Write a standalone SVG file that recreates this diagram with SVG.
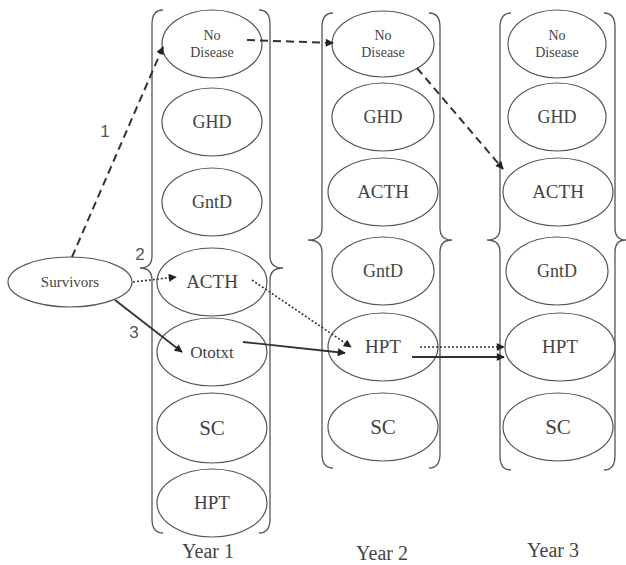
<svg xmlns="http://www.w3.org/2000/svg" width="626" height="565" viewBox="0 0 626 565">
<style>
.n ellipse{fill:#fff;stroke:#555;stroke-width:1.2}
text.t{font-family:"Liberation Serif","Times New Roman",serif;fill:#444;text-anchor:middle}
.b{fill:none;stroke:#555;stroke-width:1.3}
.num{font-family:"Liberation Sans",sans-serif;font-size:17px;fill:#555;text-anchor:middle}
.c{fill:none;stroke:#333}
.dash{stroke-width:2;stroke-dasharray:8 5}
.dot{stroke-width:1.6;stroke-dasharray:2 2}
.sol{stroke-width:1.8}
</style>
<defs>
<marker id="ah" viewBox="0 0 10 10" refX="9" refY="5" markerWidth="9" markerHeight="8" markerUnits="userSpaceOnUse" orient="auto">
<path d="M0,0 L10,5 L0,10 z" fill="#222"/>
</marker>
</defs>
<g id="braces">
<path class="b" d="M163,10 Q152,10 152,24 L152,256 Q152,268 140,268 Q152,268 152,280 L152,519 Q152,533 163,533"/>
<path class="b" d="M259,10 Q270,10 270,24 L270,256 Q270,268 283,268 Q270,268 270,280 L270,519 Q270,533 259,533"/>
<path class="b" d="M333,13 Q322,13 322,27 L322,228 Q322,240 308,240 Q322,240 322,252 L322,454 Q322,468 333,468"/>
<path class="b" d="M429,13 Q440,13 440,27 L440,228 Q440,240 452,240 Q440,240 440,252 L440,454 Q440,468 429,468"/>
<path class="b" d="M511,13 Q500,13 500,27 L500,228 Q500,240 487,240 Q500,240 500,252 L500,456 Q500,470 511,470"/>
<path class="b" d="M604,13 Q615,13 615,27 L615,228 Q615,240 626,240 Q615,240 615,252 L615,456 Q615,470 604,470"/>
</g>
<g id="survivors" class="n"><ellipse cx="70" cy="282" rx="62" ry="25"/><text class="t" x="70" y="287" font-size="15">Survivors</text></g>
<g id="y1-nodisease" class="n"><ellipse cx="212" cy="44" rx="50" ry="34"/><text class="t" x="212" y="40" font-size="14">No</text><text class="t" x="212" y="57" font-size="14">Disease</text></g>
<g id="y1-ghd" class="n"><ellipse cx="212" cy="122" rx="50" ry="34"/><text class="t" x="212" y="128" font-size="18">GHD</text></g>
<g id="y1-gntd" class="n"><ellipse cx="212" cy="202" rx="50" ry="34"/><text class="t" x="212" y="208" font-size="18">GntD</text></g>
<g id="y1-acth" class="n"><ellipse cx="212" cy="282" rx="55" ry="34"/><text class="t" x="212" y="288" font-size="19">ACTH</text></g>
<g id="y1-ototxt" class="n"><ellipse cx="212" cy="352" rx="55" ry="34"/><text class="t" x="212" y="358" font-size="17">Ototxt</text></g>
<g id="y1-sc" class="n"><ellipse cx="212" cy="428" rx="55" ry="35"/><text class="t" x="212" y="435" font-size="21">SC</text></g>
<g id="y1-hpt" class="n"><ellipse cx="212" cy="503" rx="55" ry="34"/><text class="t" x="212" y="509" font-size="19">HPT</text></g>
<g id="y2-nodisease" class="n"><ellipse cx="383" cy="44" rx="51" ry="33"/><text class="t" x="383" y="40" font-size="14">No</text><text class="t" x="383" y="57" font-size="14">Disease</text></g>
<g id="y2-ghd" class="n"><ellipse cx="383" cy="117" rx="51" ry="34"/><text class="t" x="383" y="123" font-size="18">GHD</text></g>
<g id="y2-acth" class="n"><ellipse cx="383" cy="192" rx="55" ry="34"/><text class="t" x="383" y="198" font-size="19">ACTH</text></g>
<g id="y2-gntd" class="n"><ellipse cx="383" cy="271" rx="51" ry="34"/><text class="t" x="383" y="277" font-size="18">GntD</text></g>
<g id="y2-hpt" class="n"><ellipse cx="383" cy="347" rx="55" ry="34"/><text class="t" x="383" y="353" font-size="19">HPT</text></g>
<g id="y2-sc" class="n"><ellipse cx="383" cy="427" rx="55" ry="34"/><text class="t" x="383" y="434" font-size="21">SC</text></g>
<g id="y3-nodisease" class="n"><ellipse cx="557" cy="44" rx="49" ry="34"/><text class="t" x="557" y="40" font-size="14">No</text><text class="t" x="557" y="57" font-size="14">Disease</text></g>
<g id="y3-ghd" class="n"><ellipse cx="557" cy="117" rx="49" ry="34"/><text class="t" x="557" y="123" font-size="18">GHD</text></g>
<g id="y3-acth" class="n"><ellipse cx="558" cy="192" rx="55" ry="34"/><text class="t" x="558" y="198" font-size="19">ACTH</text></g>
<g id="y3-gntd" class="n"><ellipse cx="557" cy="271" rx="51" ry="34"/><text class="t" x="557" y="277" font-size="18">GntD</text></g>
<g id="y3-hpt" class="n"><ellipse cx="560" cy="347" rx="55" ry="34"/><text class="t" x="560" y="353" font-size="19">HPT</text></g>
<g id="y3-sc" class="n"><ellipse cx="558" cy="427" rx="55" ry="34"/><text class="t" x="558" y="434" font-size="21">SC</text></g>
<g id="labels">
<text class="t" x="208" y="558" font-size="20">Year 1</text>
<text class="t" x="382" y="560" font-size="20">Year 2</text>
<text class="t" x="553" y="557" font-size="20">Year 3</text>
<text class="num" x="105" y="137">1</text>
<text class="num" x="140" y="260">2</text>
<text class="num" x="134" y="338">3</text>
</g>
<g id="connectors">
<path class="c dash" d="M72,257 L163,47" marker-end="url(#ah)"/>
<path class="c dash" d="M247,40 L333,43" marker-end="url(#ah)"/>
<path class="c dash" d="M417,68 L503,169" marker-end="url(#ah)"/>
<path class="c dot" d="M133,282 L176,277" marker-end="url(#ah)"/>
<path class="c dot" d="M252,280 L351,347" marker-end="url(#ah)"/>
<path class="c sol" d="M115,300 L182,352" marker-end="url(#ah)"/>
<path class="c sol" d="M243,342 L345,353" marker-end="url(#ah)"/>
<path class="c dot" d="M420,347 L504,347" marker-end="url(#ah)"/>
<path class="c sol" d="M412,357 L504,357" marker-end="url(#ah)"/>
</g>
</svg>
